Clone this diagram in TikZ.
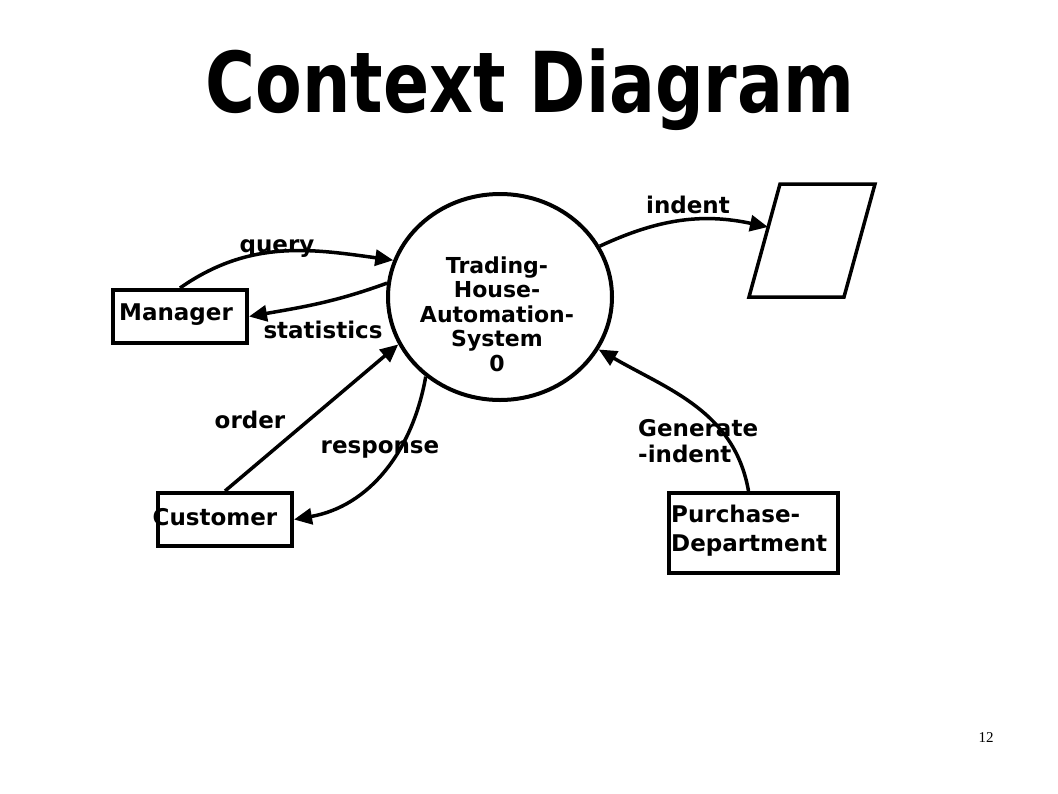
\documentclass[tikz,border=0pt]{standalone}
\usepackage{fontspec}
\setmainfont{DejaVu Sans}
\newfontfamily\pagenumfont{Liberation Serif}
\usetikzlibrary{arrows.meta,shapes.geometric}
\tikzset{
  lbl/.style={font=\fontsize{23}{27}\selectfont\bfseries, inner sep=0pt, anchor=base},
  entity/.style={draw, line width=4pt, rectangle, inner sep=0pt},
  flow/.style={line width=3.5pt, -{Triangle[length=18pt,width=16pt]}},
}
\begin{document}
\begin{tikzpicture}[x=1pt,y=1pt]
\useasboundingbox (0,0) rectangle (1058,-793);
% title
\node[inner sep=0pt, anchor=base] (title) at (530,-112)
  {\scalebox{0.81}[1]{\fontsize{84}{90}\selectfont\bfseries Context Diagram}};
% process
\node[draw, ellipse, line width=4pt, minimum width=224, minimum height=206, inner sep=0pt] (sys) at (500,-297) {};
\node[font=\fontsize{22}{24.5}\selectfont\bfseries, align=center, inner sep=0pt] (systext) at (497,-314)
  {Trading-\\House-\\Automation-\\System\\0};
% entities
\node[entity, minimum width=134, minimum height=53] (mgr) at (180,-316.5) {};
\node[lbl] (mgrtext) at (176,-320) {Manager};
\node[entity, minimum width=134, minimum height=53] (cust) at (225,-519.5) {};
\node[lbl] (custtext) at (215,-525) {Customer};
\node[entity, minimum width=169, minimum height=80] (pd) at (753.5,-533) {};
\node[font=\fontsize{23}{29}\selectfont\bfseries, align=left, inner sep=0pt, anchor=north west] (pdtext) at (671,-505)
  {Purchase-\\Department};
% store
\draw[line width=3.5pt, line join=miter] (780,-184) -- (875,-184) -- (844,-297) -- (749,-297) -- cycle;
\coordinate (store) at (768,-227);
% flows
\draw[flow] (mgr.north) to[out=35,in=172] (sys.161);
\draw[flow] (sys.173) to[out=200,in=10] (mgr.east);
\draw[flow] (cust.north) -- (sys.205);
\draw[flow] (sys.227) to[out=-100,in=10] (cust.east);
\draw[flow] (sys.27) to[out=25,in=168] (store);
\draw[flow] ([xshift=-5pt]pd.north) to[out=100,in=-30] (sys.332);
% labels
\node[lbl] (lquery) at (277,-252) {query};
\node[lbl] (lstat) at (323,-338) {statistics};
\node[lbl] (lorder) at (250,-428) {order};
\node[lbl] (lresp) at (380,-453) {response};
\node[lbl] (lindent) at (688,-213) {indent};
\node[font=\fontsize{23}{26}\selectfont\bfseries, align=left, inner sep=0pt, anchor=north west] (lgen) at (638,-419)
  {Generate\\-indent};
% page number
\node[inner sep=0pt] (pagenum) at (986,-738) {\fontsize{15}{15}\selectfont\pagenumfont 12};
\end{tikzpicture}
\end{document}
